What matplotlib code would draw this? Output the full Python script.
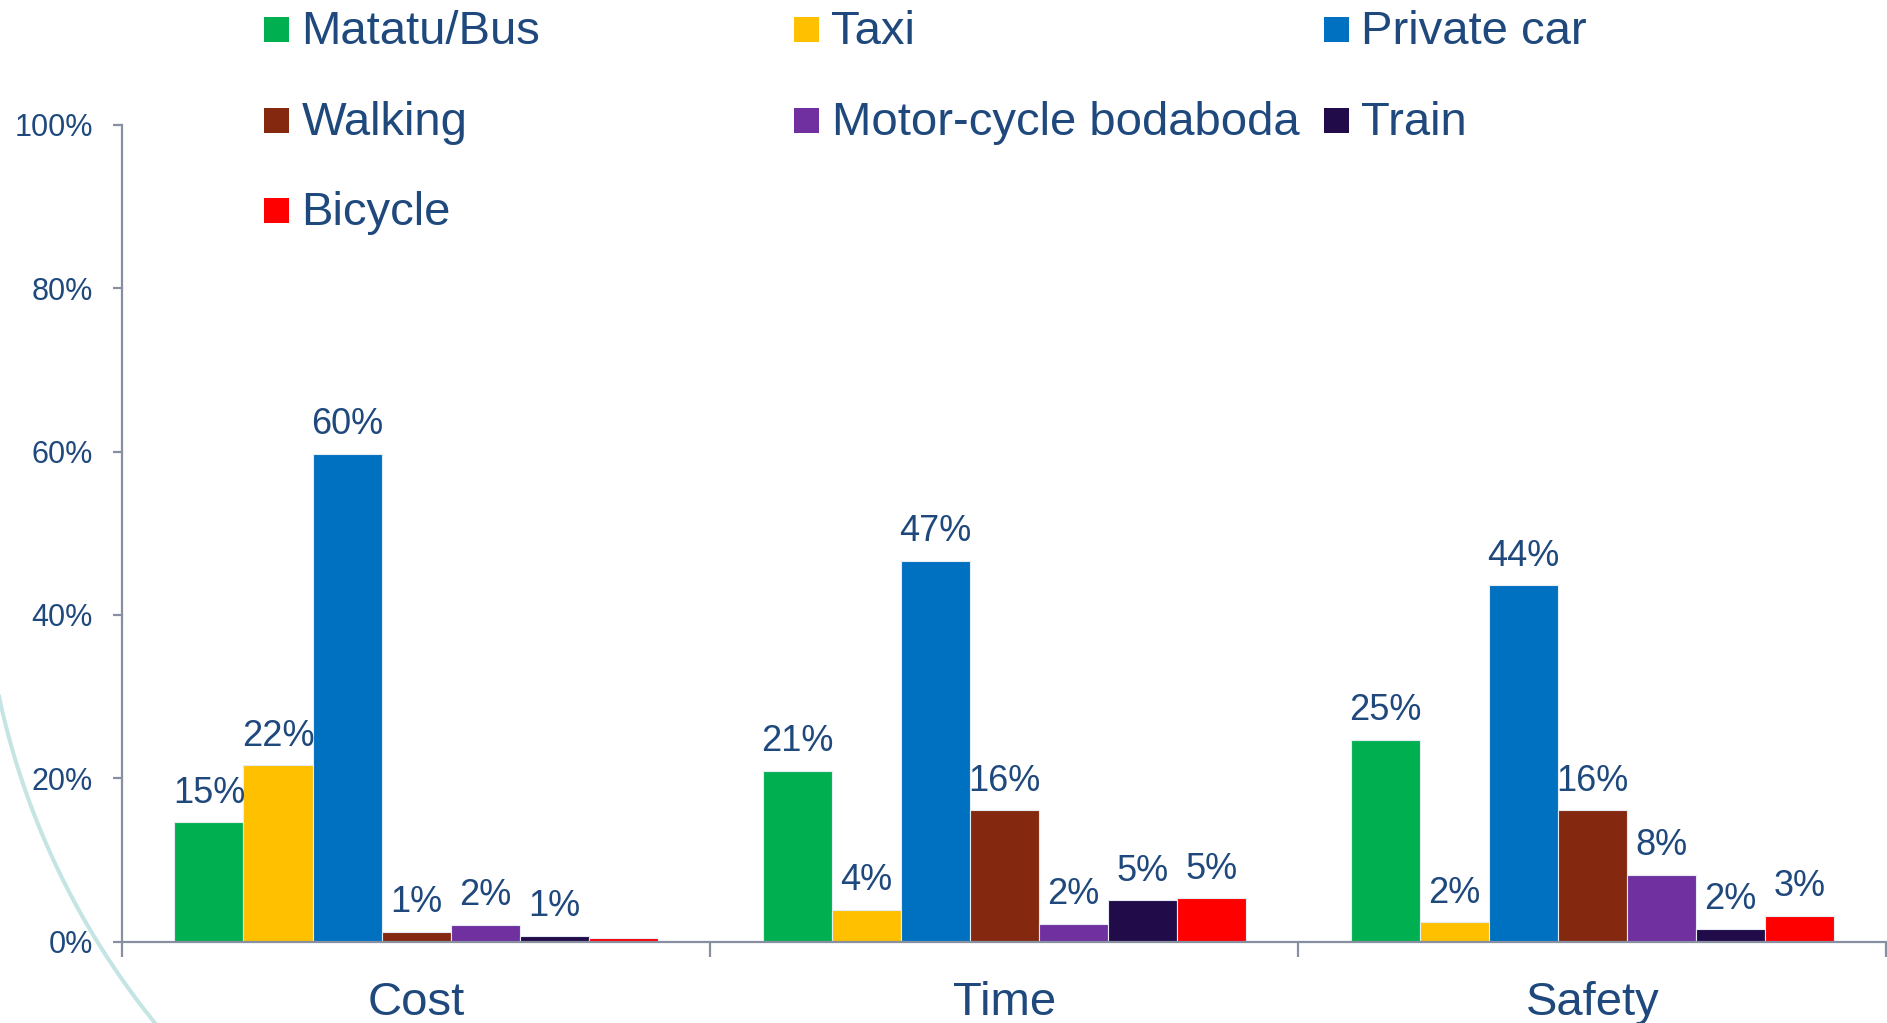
import numpy as np
import matplotlib
matplotlib.use("Agg")
import matplotlib.pyplot as plt
from matplotlib.lines import Line2D
from matplotlib.patches import Rectangle

plt.rcParams['font.family'] = ['Liberation Sans', 'DejaVu Sans']

# ---------------- data ----------------
categories = ["Cost", "Time", "Safety"]
series = ["Matatu/Bus", "Taxi", "Private car", "Walking",
          "Motor-cycle bodaboda", "Train", "Bicycle"]
colors = ["#00B050", "#FFC000", "#0070C0", "#84290F",
          "#7030A0", "#210B48", "#FF0000"]
matatu  = [14.6, 20.9, 24.7]
taxi    = [21.6, 3.9, 2.4]
private = [59.7, 46.6, 43.6]
walking = [1.2, 16.1, 16.1]
motor   = [2.1, 2.2, 8.2]
train   = [0.7, 5.1, 1.6]
bicycle = [0.4, 5.3, 3.2]
values = [matatu, taxi, private, walking, motor, train, bicycle]
hidden_labels = [("Cost", "Bicycle")]
yticks = [0, 20, 40, 60, 80, 100]

text_color = "#1F497D"
axis_color = "#878FA0"

W, H = 1887, 1023
fig = plt.figure(figsize=(W / 100, H / 100), dpi=100)
ax = fig.add_axes([122 / W, (H - 941.7) / H, 1764.5 / W, 817 / H])

n = len(series)
bw = 0.1174
x = np.arange(len(categories))
for i, (name, vals, col) in enumerate(zip(series, values, colors)):
    pos = x + (i - (n - 1) / 2) * bw
    bars = ax.bar(pos, vals, width=bw, color=col, edgecolor="#E6ECF3",
                  linewidth=0.8, zorder=2)
    for c, b, v in zip(categories, bars, vals):
        if (c, name) in hidden_labels:
            continue
        ax.annotate(f"{int(v + 0.5):d}%", (b.get_x() + b.get_width() / 2, v),
                    xytext=(0, 8.3), textcoords="offset points",
                    ha="center", va="bottom", fontsize=26, color=text_color)

ax.set_xlim(-0.5, len(categories) - 0.5)
ax.set_ylim(0, 100)
ax.set_yticks(yticks)
ax.set_yticklabels([f"{t}%" for t in yticks])
ax.set_xticks(x)
ax.set_xticklabels(categories)
ax.set_xticks(np.arange(-0.5, len(categories), 1.0), minor=True)

for s in ["top", "right"]:
    ax.spines[s].set_visible(False)
for s in ["left", "bottom"]:
    ax.spines[s].set_color(axis_color)
    ax.spines[s].set_linewidth(1.6)

ax.tick_params(axis="y", direction="out", length=6.5, width=1.6,
               color=axis_color, labelsize=22, labelcolor=text_color, pad=14.4)
ax.tick_params(axis="x", which="major", length=0, labelsize=34,
               labelcolor=text_color, pad=28)
ax.tick_params(axis="x", which="minor", direction="out", length=10.5,
               width=1.6, color=axis_color)
ax.spines["bottom"].set_zorder(3)

# ---------------- legend (manual, Excel-like grid) ----------------
col_x = [264, 794, 1323.5]
row_y = [29.5, 120.5, 210.5]
sq = 25
for i, (name, col) in enumerate(zip(series, colors)):
    r, c = divmod(i, 3)
    x0 = col_x[c]
    yc = row_y[r]
    fig.add_artist(Rectangle((x0 / W, (H - yc - sq / 2) / H), sq / W, sq / H,
                             transform=fig.transFigure, facecolor=col,
                             edgecolor="none"))
    fig.text((x0 + 37.5) / W, (H - (yc + 14.5)) / H, name, fontsize=34,
             color=text_color, ha="left", va="baseline")

# ---------------- decorative arc from slide background ----------------
cx, cy, rad = 757, 535, 775
ang = np.radians(np.linspace(188, 226, 200))
ax_px = cx + rad * np.cos(ang)
ay_px = cy - rad * np.sin(ang)
fig.add_artist(Line2D(ax_px / W, (H - ay_px) / H, transform=fig.transFigure,
                      color="#C5E4E4", linewidth=2.9, zorder=0))

fig.savefig("out.png", dpi=100)
